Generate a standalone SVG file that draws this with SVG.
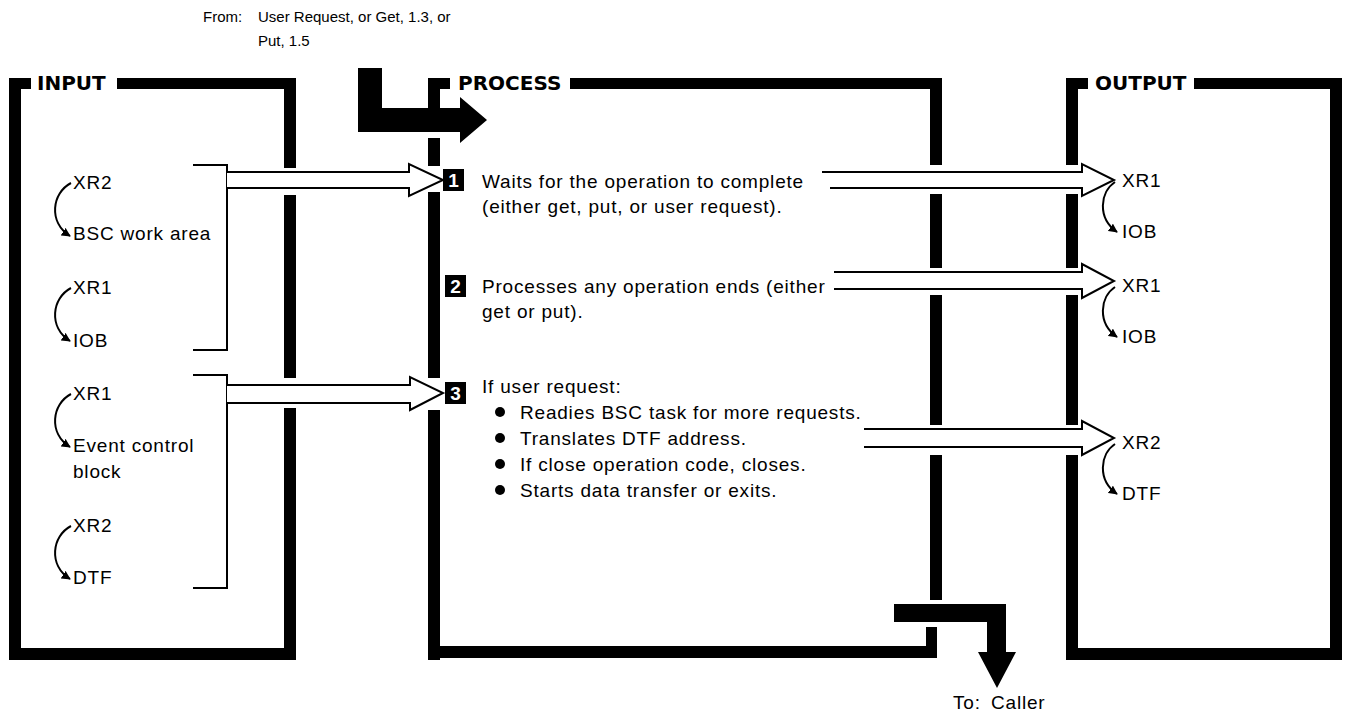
<svg xmlns="http://www.w3.org/2000/svg" width="1356" height="715" viewBox="0 0 1356 715">
<defs>
<style>
text{font-family:"Liberation Sans",Arial,sans-serif;fill:#000}
.t{font-size:19px;letter-spacing:0.8px}
.s{font-size:15px}
.h{font-family:"DejaVu Sans",sans-serif;font-size:20px;font-weight:bold}
.n{font-size:19px;font-weight:bold;fill:#fff;text-anchor:middle}
.bar{fill:#000}
.thin{fill:none;stroke:#000;stroke-width:2}
.hollow{fill:#fff;stroke:#000;stroke-width:2;stroke-linejoin:miter}
.curve{fill:none;stroke:#000;stroke-width:2}
</style>
<marker id="ah" viewBox="0 0 10 10" refX="9" refY="5" markerWidth="9" markerHeight="9" orient="auto" markerUnits="userSpaceOnUse">
<path d="M0,0 L10,5 L0,10 z" fill="#000"/>
</marker>
</defs>
<rect width="1356" height="715" fill="#fff"/>

<!-- caller note -->
<g id="from-note">
<text class="s" x="203" y="22">From:</text>
<text class="s" x="258" y="22">User Request, or Get, 1.3, or</text>
<text class="s" x="258" y="46">Put, 1.5</text>
</g>

<!-- INPUT panel -->
<g id="input">
<rect class="bar" x="9" y="78" width="12" height="582"/>
<rect class="bar" x="9" y="648" width="287" height="12"/>
<rect class="bar" x="9" y="78" width="22" height="11"/>
<rect class="bar" x="117" y="78" width="179" height="11"/>
<rect class="bar" x="284" y="78" width="12" height="90"/>
<rect class="bar" x="284" y="195" width="12" height="183"/>
<rect class="bar" x="284" y="408" width="12" height="252"/>
<text class="h" x="37" y="90">INPUT</text>

<text class="t" x="73" y="189">XR2</text>
<path class="curve" d="M71,183 C52,193 48,222 70,236" marker-end="url(#ah)"/>
<text class="t" x="73" y="240">BSC work area</text>

<text class="t" x="73" y="294">XR1</text>
<path class="curve" d="M71,288 C52,298 48,327 70,341" marker-end="url(#ah)"/>
<text class="t" x="73" y="347">IOB</text>

<text class="t" x="73" y="400">XR1</text>
<path class="curve" d="M71,394 C52,404 48,433 70,447" marker-end="url(#ah)"/>
<text class="t" x="73" y="452">Event control</text>
<text class="t" x="73" y="478">block</text>

<text class="t" x="73" y="532">XR2</text>
<path class="curve" d="M71,526 C52,536 48,565 70,579" marker-end="url(#ah)"/>
<text class="t" x="73" y="584">DTF</text>

<path class="thin" d="M193,165 H227 V350 H193"/>
<path class="thin" d="M193,375 H227 V588 H193"/>
</g>

<!-- PROCESS panel -->
<g id="process">
<rect class="bar" x="428" y="78" width="12" height="35"/>
<rect class="bar" x="428" y="138" width="12" height="28"/>
<rect class="bar" x="428" y="192" width="12" height="186"/>
<rect class="bar" x="428" y="410" width="12" height="250"/>
<rect class="bar" x="428" y="78" width="22" height="11"/>
<rect class="bar" x="570" y="78" width="372" height="11"/>
<rect class="bar" x="930" y="78" width="12" height="87"/>
<rect class="bar" x="930" y="194" width="12" height="74"/>
<rect class="bar" x="930" y="295" width="12" height="130"/>
<rect class="bar" x="930" y="455" width="12" height="145"/>
<rect class="bar" x="428" y="646" width="509" height="12"/>
<rect class="bar" x="926" y="627" width="11" height="31"/>
<text class="h" x="458" y="90">PROCESS</text>

<rect class="bar" x="443" y="169" width="21" height="22"/>
<text class="n" x="453.5" y="187">1</text>
<text class="t" x="482" y="188">Waits for the operation to complete</text>
<text class="t" x="482" y="213">(either get, put, or user request).</text>

<rect class="bar" x="445" y="275" width="21" height="22"/>
<text class="n" x="455.5" y="293">2</text>
<text class="t" x="482" y="293">Processes any operation ends (either</text>
<text class="t" x="482" y="318">get or put).</text>

<rect class="bar" x="445" y="382" width="21" height="22"/>
<text class="n" x="455.5" y="400">3</text>
<text class="t" x="482" y="393">If user request:</text>
<circle cx="500" cy="412" r="5"/>
<text class="t" x="520" y="419">Readies BSC task for more requests.</text>
<circle cx="500" cy="438" r="5"/>
<text class="t" x="520" y="445">Translates DTF address.</text>
<circle cx="500" cy="464" r="5"/>
<text class="t" x="520" y="471">If close operation code, closes.</text>
<circle cx="500" cy="490" r="5"/>
<text class="t" x="520" y="497">Starts data transfer or exits.</text>
</g>

<!-- OUTPUT panel -->
<g id="output">
<rect class="bar" x="1066" y="78" width="12" height="87"/>
<rect class="bar" x="1066" y="194" width="12" height="74"/>
<rect class="bar" x="1066" y="295" width="12" height="130"/>
<rect class="bar" x="1066" y="455" width="12" height="205"/>
<rect class="bar" x="1066" y="78" width="22" height="11"/>
<rect class="bar" x="1194" y="78" width="148" height="11"/>
<rect class="bar" x="1330" y="78" width="12" height="582"/>
<rect class="bar" x="1066" y="648" width="276" height="12"/>
<text class="h" x="1095" y="90">OUTPUT</text>

<text class="t" x="1122" y="187">XR1</text>
<path class="curve" d="M1115,182 C1100,192 1097,218 1117,232" marker-end="url(#ah)"/>
<text class="t" x="1122" y="238">IOB</text>

<text class="t" x="1122" y="292">XR1</text>
<path class="curve" d="M1115,287 C1100,297 1097,323 1117,337" marker-end="url(#ah)"/>
<text class="t" x="1122" y="343">IOB</text>

<text class="t" x="1122" y="449">XR2</text>
<path class="curve" d="M1115,444 C1100,454 1097,480 1117,494" marker-end="url(#ah)"/>
<text class="t" x="1122" y="500">DTF</text>
</g>

<!-- connectors -->
<g id="connectors">
<path class="bar" d="M358,68 H382 V108 H460 V97 L487,120 L460,143 V132 H358 Z"/>
<path class="hollow" d="M227,172 H409 V164 L443,180 L409,196 V188 H227"/>
<path class="hollow" d="M227,385 H410 V377 L443,393 L410,410 V403 H227"/>
<path class="hollow" d="M822,172 H1082 V164 L1114,180 L1082,196 V188 H830"/>
<path class="hollow" d="M834,272 H1082 V264 L1114,281 L1082,298 V289 H834"/>
<path class="hollow" d="M864,429 H1082 V421 L1114,438 L1082,455 V447 H864"/>
<path class="bar" d="M894,604 H1006 V652 H1016 L997,688 L978,652 H987 V622 H894 Z"/>
<text class="t" x="953" y="709">To:</text>
<text class="t" x="991" y="709">Caller</text>
</g>
</svg>
